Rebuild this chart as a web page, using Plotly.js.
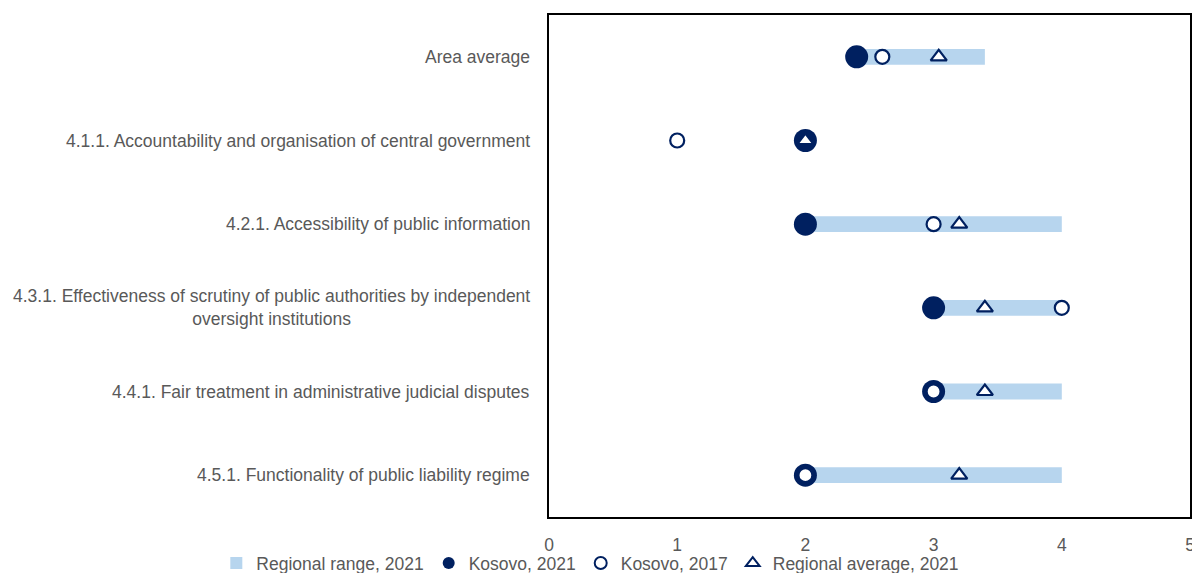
<!DOCTYPE html>
<html>
<head>
<meta charset="utf-8">
<script src="https://cdn.plot.ly/plotly-3.0.1.min.js"></script>
<style>
html,body{margin:0;padding:0;background:#fff;}
#chart{width:1192px;height:573px;}
</style>
</head>
<body>
<div id="chart"></div>
<script>
const categories = [
  "Area average",
  "4.1.1. Accountability and organisation of central government",
  "4.2.1. Accessibility of public information",
  "4.3.1. Effectiveness of scrutiny of public authorities by independent<br>oversight institutions",
  "4.4.1. Fair treatment in administrative judicial disputes",
  "4.5.1. Functionality of public liability regime"
];
const rangeMin = [2.4, 2, 2, 3, 3, 2];
const rangeMax = [3.4, 2, 4, 4, 4, 4];
const kosovo2021 = [2.4, 2, 2, 3, 3, 2];
const kosovo2017 = [2.6, 1, 3, 4, 3, 2];
const regionalAvg = [3.04, 2, 3.2, 3.4, 3.4, 3.2];
const xTicks = [0, 1, 2, 3, 4, 5];

const NAVY = "#002060";
const LIGHT = "#B7D5EE";
const FONT = "Liberation Sans, Arial, sans-serif";
const FS = 17.5;

const traces = [
  {
    type: "bar", orientation: "h", name: "Regional range, 2021",
    y: categories, base: rangeMin,
    x: rangeMax.map((v, i) => v - rangeMin[i]),
    width: 0.19, marker: {color: LIGHT, line: {width: 0}},
    hoverinfo: "skip"
  },
  {
    type: "scatter", mode: "markers", name: "Kosovo, 2021",
    y: categories, x: kosovo2021,
    marker: {symbol: "circle", size: 23, color: NAVY, line: {width: 0}}
  },
  {
    type: "scatter", mode: "markers", name: "Kosovo, 2017",
    y: categories, x: kosovo2017,
    marker: {symbol: "circle", size: 14, color: "#ffffff", line: {color: NAVY, width: 2.2}}
  },
  {
    type: "scatter", mode: "markers", name: "Regional average, 2021",
    y: categories, x: regionalAvg,
    marker: {symbol: "triangle-up", size: 14, color: "#ffffff", line: {color: NAVY, width: 2.2}}
  }
];

const annotations = categories.map(c => ({
  x: 0, xref: "paper", y: c, yref: "y",
  text: c, showarrow: false, xanchor: "right", xshift: -17,
  align: "center", font: {family: FONT, size: FS, color: "#595959"}
}));

const layout = {
  width: 1192, height: 573,
  margin: {l: 549, r: 2, t: 15, b: 56, autoexpand: false},
  paper_bgcolor: "#ffffff", plot_bgcolor: "#ffffff",
  font: {family: FONT, size: FS, color: "#595959"},
  barmode: "overlay",
  showlegend: true,
  xaxis: {
    range: [0, 5], tickvals: xTicks, ticktext: xTicks.map(String),
    showgrid: false, zeroline: false, ticks: "",
    showline: true, linecolor: "#000000", linewidth: 2, mirror: true,
    tickfont: {family: FONT, size: FS, color: "#595959"},
    ticklabelstandoff: 11, ticklabeloverflow: "allow"
  },
  yaxis: {
    type: "category", autorange: "reversed",
    showticklabels: false, showgrid: false, zeroline: false, ticks: "",
    showline: true, linecolor: "#000000", linewidth: 2, mirror: true
  },
  legend: {
    orientation: "h", xref: "paper", yref: "paper",
    x: -0.519, xanchor: "left", y: -0.092, yanchor: "middle",
    font: {family: FONT, size: FS, color: "#595959"},
    itemsizing: "constant", itemwidth: 30, traceorder: "normal",
    bgcolor: "rgba(0,0,0,0)"
  },
  annotations: annotations
};

Plotly.newPlot("chart", traces, layout, {displayModeBar: false, staticPlot: true});
</script>
</body>
</html>
